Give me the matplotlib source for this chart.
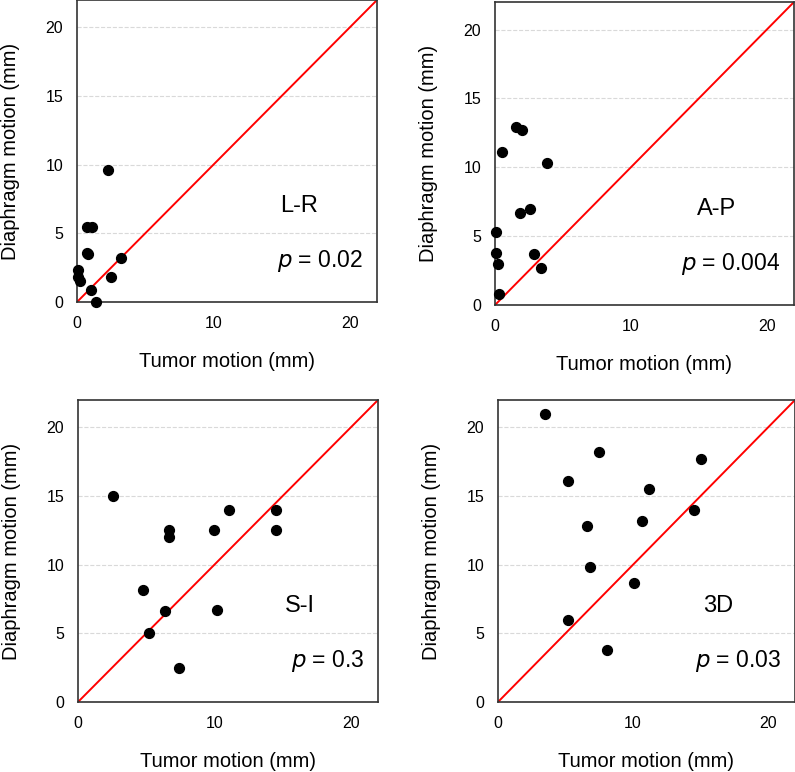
import matplotlib.pyplot as plt
import numpy as np

plt.rcParams['font.family'] = ['Liberation Sans', 'DejaVu Sans']

# L-R
lr_tumor = [2.3, 0.7, 1.1, 0.7, 0.8, 0.1, 0.1, 0.2, 3.2, 2.5, 1.0, 1.4]
lr_diaph = [9.6, 5.5, 5.5, 3.6, 3.5, 2.3, 1.8, 1.5, 3.2, 1.8, 0.9, 0.0]
# A-P
ap_tumor = [1.55, 2.0, 0.5, 3.8, 2.6, 1.85, 0.05, 0.05, 2.9, 0.2, 3.4, 0.3]
ap_diaph = [12.9, 12.7, 11.1, 10.3, 7.0, 6.65, 5.3, 3.8, 3.67, 3.0, 2.68, 0.8]
# S-I
si_tumor = [2.56, 11.05, 14.54, 14.54, 10.0, 6.68, 6.68, 4.78, 6.37, 10.2, 5.24, 7.39]
si_diaph = [15.0, 14.0, 14.0, 12.5, 12.5, 12.5, 12.0, 8.15, 6.6, 6.7, 5.0, 2.5]
# 3D
d3_tumor = [3.5, 7.5, 15.0, 5.2, 11.2, 14.5, 6.6, 10.7, 6.8, 10.1, 5.2, 8.1]
d3_diaph = [21.0, 18.2, 17.7, 16.1, 15.5, 14.0, 12.8, 13.15, 9.8, 8.7, 6.0, 3.8]

panels = [
    ("L-R", "0.02", lr_tumor, lr_diaph, (77, 0, 377, 302)),
    ("A-P", "0.004", ap_tumor, ap_diaph, (495, 2, 794, 305)),
    ("S-I", "0.3", si_tumor, si_diaph, (78, 400, 378, 702)),
    ("3D", "0.03", d3_tumor, d3_diaph, (498, 400, 795, 702)),
]

W, H = 795, 772
fig = plt.figure(figsize=(W / 100, H / 100), dpi=100)

for name, p, x, y, (l, t, r, b) in panels:
    ax = fig.add_axes([l / W, 1 - b / H, (r - l) / W, (b - t) / H])
    ax.set_xlim(0, 22)
    ax.set_ylim(0, 22)
    ax.set_xticks([0, 10, 20])
    ax.set_yticks([0, 5, 10, 15, 20])
    ax.yaxis.grid(True, color='#d9d9d9', linestyle='--', linewidth=0.8)
    ax.set_axisbelow(True)
    ax.plot([0, 22], [0, 22], color='#ff0000', linewidth=1.4, zorder=2)
    ax.scatter(x, y, s=50, color='black', zorder=3, clip_on=False)
    ax.tick_params(length=0, pad=10, labelsize=11.5)
    for sp in ax.spines.values():
        sp.set_color('#333333')
        sp.set_linewidth(1.2)
    ax.set_xlabel("Tumor motion (mm)", fontsize=14.5, labelpad=15)
    ax.set_ylabel("Diaphragm motion (mm)", fontsize=14.5, labelpad=18)
    ax.text(16.3, 7.0, name, fontsize=17, ha='center', va='center')
    ax.text(21.0, 3.0, "$\\it{p}$ = " + p, fontsize=16.5, ha='right', va='center')

fig.savefig("out.png", dpi=100)
